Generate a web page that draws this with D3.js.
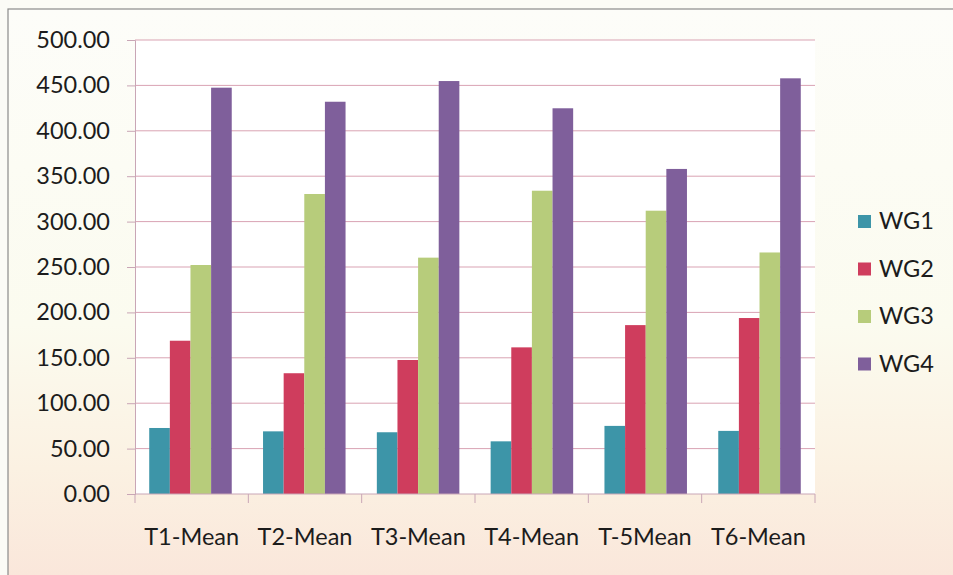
<!DOCTYPE html>
<html>
<head>
<meta charset="utf-8">
<script src="https://cdn.jsdelivr.net/npm/d3@7/dist/d3.min.js"></script>
<style>
  html, body { margin: 0; padding: 0; background: #fff; }
  svg { display: block; }
  text { font-family: Lato, "Open Sans", sans-serif; fill: #1c1c1c; }
</style>
</head>
<body>
<svg id="chart" width="953" height="575"></svg>
<script>
// Mean values per test for each working group
const categories = ["T1-Mean", "T2-Mean", "T3-Mean", "T4-Mean", "T-5Mean", "T6-Mean"];
const seriesNames = ["WG1", "WG2", "WG3", "WG4"];
const wg1 = [72.7, 69.0, 68.0, 58.0, 75.0, 69.5];
const wg2 = [168.8, 133.0, 147.6, 161.5, 186.0, 193.8];
const wg3 = [252.2, 330.4, 260.3, 334.0, 312.0, 266.0];
const wg4 = [447.5, 432.0, 454.8, 424.8, 358.0, 457.8];
const yTicks = [0, 50, 100, 150, 200, 250, 300, 350, 400, 450, 500];
const colors = ["#3d95a8", "#cf3d5d", "#b7cc7b", "#7f5f9b"];

const seriesValues = [wg1, wg2, wg3, wg4];
const rows = categories.map((c, i) => ({
  cat: c,
  vals: seriesNames.map((s, j) => ({ key: s, value: seriesValues[j][i], color: colors[j] }))
}));

const W = 953, H = 575;
const FONT = 23.5;
const svg = d3.select("#chart");

// Chart area background: warm gradient fading to peach at the bottom
const defs = svg.append("defs");
const grad = defs.append("linearGradient").attr("id", "bg").attr("x1", 0).attr("y1", 0).attr("x2", 0).attr("y2", 1);
grad.append("stop").attr("offset", "0%").attr("stop-color", "#fdfdf9");
grad.append("stop").attr("offset", "55%").attr("stop-color", "#fbfbef");
grad.append("stop").attr("offset", "80%").attr("stop-color", "#fbf1e2");
grad.append("stop").attr("offset", "100%").attr("stop-color", "#fae6da");
svg.append("rect").attr("x", 0).attr("y", 0).attr("width", W).attr("height", H).attr("fill", "#fbfbf6");
svg.append("rect").attr("x", 8).attr("y", 9).attr("width", W).attr("height", H)
  .attr("fill", "url(#bg)").attr("stroke", "#8a8a8a").attr("stroke-width", 1.2);

const plot = { left: 135, right: 815, top: 40, bottom: 494 };

const x0 = d3.scaleBand().domain(categories).range([plot.left, plot.right]).paddingInner(0.275).paddingOuter(0.125);
const x1 = d3.scaleBand().domain(seriesNames).range([0, x0.bandwidth()]).padding(0);
const y = d3.scaleLinear().domain([0, 500]).range([plot.bottom, plot.top]);

// Plot area
svg.append("rect").attr("x", plot.left).attr("y", plot.top)
  .attr("width", plot.right - plot.left).attr("height", plot.bottom - plot.top).attr("fill", "#ffffff");

// Horizontal gridlines
svg.append("g").selectAll("line").data(yTicks.filter(d => d > 0)).join("line")
  .attr("x1", plot.left).attr("x2", plot.right)
  .attr("y1", d => y(d)).attr("y2", d => y(d))
  .attr("stroke", "#d9a3b3").attr("stroke-width", 1);

// Bars
const groups = svg.append("g").selectAll("g").data(rows).join("g")
  .attr("transform", d => `translate(${x0(d.cat)},0)`);
groups.selectAll("rect").data(d => d.vals).join("rect")
  .attr("x", d => x1(d.key))
  .attr("width", x1.bandwidth())
  .attr("y", d => y(d.value))
  .attr("height", d => y(0) - y(d.value))
  .attr("fill", d => d.color);

// Y axis
const yAxis = svg.append("g").attr("transform", `translate(${plot.left},0)`)
  .call(d3.axisLeft(y).tickValues(yTicks).tickFormat(d3.format(".2f")).tickSize(8).tickPadding(17));
yAxis.select(".domain").attr("stroke", "#c9a6b6");
yAxis.selectAll(".tick line").attr("stroke", "#c9a6b6");
yAxis.selectAll(".tick text").attr("font-size", FONT).attr("fill", "#1c1c1c").attr("font-family", "Lato, 'Open Sans', sans-serif");

// X axis with ticks at category boundaries
const xAxis = svg.append("g").attr("transform", `translate(0,${plot.bottom})`);
const step = (plot.right - plot.left) / categories.length;
xAxis.append("line").attr("x1", plot.left).attr("x2", plot.right).attr("y1", 0).attr("y2", 0)
  .attr("stroke", "#c9a6b6");
xAxis.selectAll("line.tk").data(d3.range(categories.length + 1)).join("line").attr("class", "tk")
  .attr("x1", i => plot.left + i * step).attr("x2", i => plot.left + i * step)
  .attr("y1", 0).attr("y2", 9).attr("stroke", "#c9a6b6");
xAxis.selectAll("text").data(categories).join("text")
  .attr("x", (d, i) => plot.left + (i + 0.5) * step)
  .attr("y", 51)
  .attr("text-anchor", "middle")
  .attr("font-size", FONT)
  .text(d => d);

// Legend
const legend = svg.append("g").attr("transform", "translate(858,221)");
const li = legend.selectAll("g").data(seriesNames).join("g")
  .attr("transform", (d, i) => `translate(0,${i * 47.5})`);
li.append("rect").attr("x", 0).attr("y", -6).attr("width", 13).attr("height", 13)
  .attr("fill", (d, i) => colors[i]);
li.append("text").attr("x", 21).attr("y", 0).attr("dy", "0.36em")
  .attr("font-size", FONT).text(d => d);
</script>
</body>
</html>
